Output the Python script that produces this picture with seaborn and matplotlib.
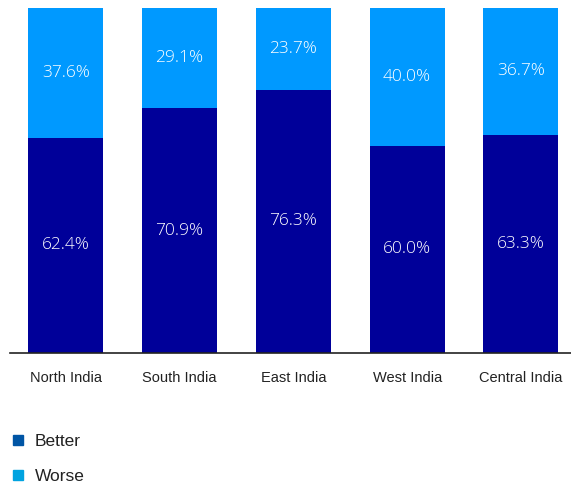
import matplotlib
matplotlib.use("Agg")
import matplotlib.pyplot as plt
from matplotlib.lines import Line2D
import seaborn as sns
import pandas as pd

regions = ["North India", "South India", "East India", "West India", "Central India"]
better = [62.4, 70.9, 76.3, 60.0, 63.3]
worse = [37.6, 29.1, 23.7, 40.0, 36.7]

dark = "#000099"
light = "#0099FF"

df = pd.DataFrame({"region": regions, "better": better, "worse": worse})
df["total"] = df["better"] + df["worse"]

sns.set_theme(style="white")
plt.rcParams["font.family"] = ["Liberation Sans", "DejaVu Sans"]

fig = plt.figure(figsize=(5.71, 4.87), dpi=100)
ax = fig.add_axes([0.0175, 0.2752, 0.9825, 0.7084])

# stacked bars: full height in the light colour, "Better" share drawn over it
sns.barplot(data=df, x="region", y="total", color=light, width=0.66,
            saturation=1, ax=ax, linewidth=0)
sns.barplot(data=df, x="region", y="better", color=dark, width=0.66,
            saturation=1, ax=ax, linewidth=0)

label_font = dict(ha="center", va="center", color="white", fontsize=12.5,
                  family=["Open Sans", "DejaVu Sans"], fontweight="light",
                  zorder=10)
for i, (b, w) in enumerate(zip(better, worse)):
    ax.text(i, b / 2, f"{b:.1f}%", **label_font)
    ax.text(i, b + w / 2, f"{w:.1f}%", **label_font)

ax.set_ylim(0, 100)
ax.set_xlim(-0.49, 4.44)
ax.set_xlabel("")
ax.set_ylabel("")
ax.set_yticks([])
for side in ["top", "right", "left"]:
    ax.spines[side].set_visible(False)
ax.spines["bottom"].set_color("#222222")
ax.spines["bottom"].set_linewidth(1.2)
ax.tick_params(axis="x", length=0, pad=13, labelsize=10.5, colors="#222222")

handles = [
    Line2D([], [], marker="s", linestyle="none", markersize=7,
           markerfacecolor="#0055A5", markeredgecolor="#0055A5", label="Better"),
    Line2D([], [], marker="s", linestyle="none", markersize=7,
           markerfacecolor="#00A3E0", markeredgecolor="#00A3E0", label="Worse"),
]
fig.legend(handles=handles, loc="upper left", bbox_to_anchor=(0.005, 0.124),
           frameon=False, fontsize=12.5, handletextpad=0.45, labelspacing=1.15,
           handlelength=1.0, borderaxespad=0, labelcolor="#222222")

fig.savefig("out.png", dpi=100)
